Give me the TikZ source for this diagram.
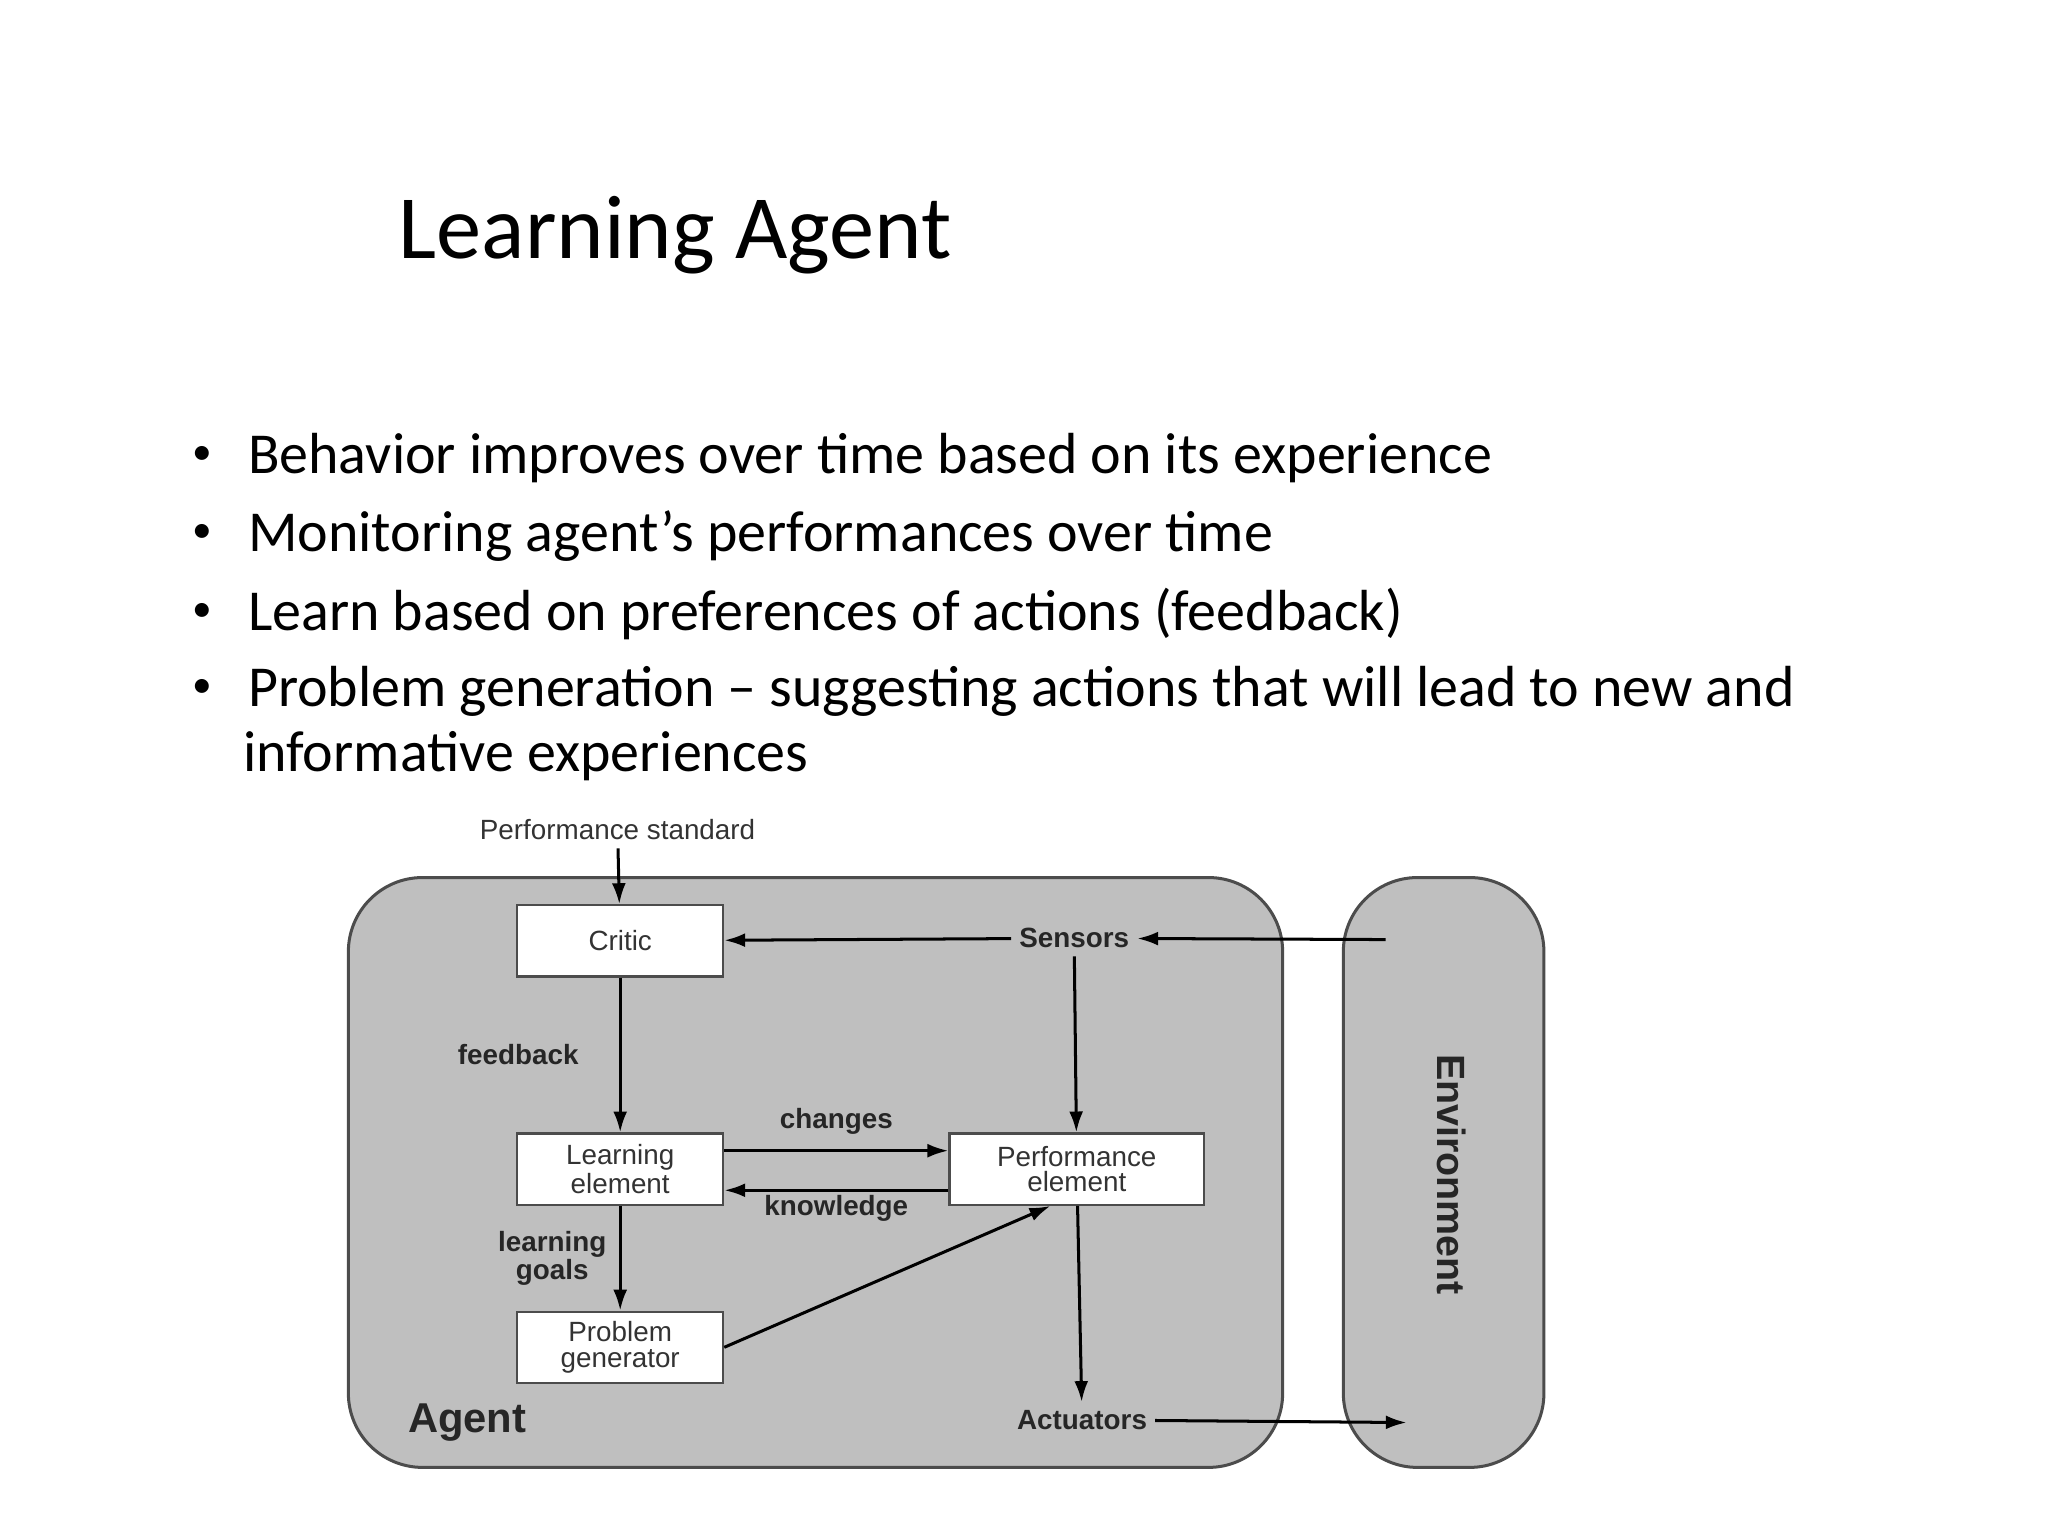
\documentclass[tikz,border=0pt]{standalone}
\usepackage{fontspec}
\setmainfont{Carlito}
\newfontfamily\dfont{Liberation Sans}
\usetikzlibrary{arrows.meta}
\newcommand{\mybul}{\makebox[42\dimexpr0.567pt\relax][l]{\raisebox{0.15em}{\fontsize{17}{17}\selectfont•}}}
\begin{document}
\begin{tikzpicture}[x=0.02cm,y=-0.02cm,
  wbox/.style={draw=black!70,fill=white,line width=1pt,minimum width=3.12cm,minimum height=1.08cm,align=center,font=\dfont\fontsize{12}{11}\selectfont,text=black!80},
  arr/.style={-{Latex[length=9pt,width=6pt]},line width=1.3pt},
  lbl/.style={font=\dfont\bfseries\fontsize{12}{11}\selectfont,text=black!85,align=center},
  bul/.style={anchor=west,font=\fontsize{25}{28}\selectfont,align=left}]
\useasboundingbox (0,0) rectangle (1552,1164);
\node[anchor=west,font=\fontsize{39}{44}\selectfont] (title) at (296,178) {Learning Agent};
\node[bul] (b1) at (140,347) {\mybul Behavior improves over time based on its experience};
\node[bul] (b2) at (140,406) {\mybul Monitoring agent’s performances over time};
\node[bul] (b3) at (140,465) {\mybul Learn based on preferences of actions (feedback)};
\node[bul] (b4) at (140,524) {\mybul Problem generation – suggesting actions that will lead to new and};
\node[bul] (b5) at (178,573) {informative experiences};
\draw[fill=black!25,draw=black!70,line width=1.3pt,rounded corners=32] (264,665) rectangle (972,1112);
\draw[fill=black!25,draw=black!70,line width=1.3pt,rounded corners=32] (1018,665) rectangle (1170,1112);
\node[wbox] (critic) at (470,713) {Critic};
\node[wbox] (learn) at (470,886) {Learning\\element};
\node[wbox,minimum width=3.86cm] (perf) at (816,886) {Performance\\element};
\node[wbox] (prob) at (470,1021) {Problem\\generator};
\node[lbl] (sens) at (814,711) {Sensors};
\node[lbl] (act) at (820,1076) {Actuators};
\node[font=\dfont\fontsize{12}{12}\selectfont,text=black!80] (ps) at (468,629) {Performance standard};
\node[font=\dfont\bfseries\fontsize{18}{18}\selectfont,text=black!85] (agent) at (354,1078) {Agent};
\node[font=\dfont\bfseries\fontsize{17}{17}\selectfont,text=black!85,rotate=-90] (env) at (1100,890) {Environment};
\coordinate (envin) at (1050,712);
\coordinate (envout) at (1066,1078);
\draw[arr] (ps) -- (critic);
\draw[arr] (envin) -- (sens);
\draw[arr] (sens) -- (critic);
\draw[arr] (sens) -- (perf);
\draw[arr] (critic) -- node[lbl,left,xshift=-14pt]{feedback} (learn);
\draw[arr] ([yshift=0.28cm]learn.east) -- node[lbl,above,yshift=3pt]{changes} ([yshift=0.28cm]perf.west);
\draw[arr] ([yshift=-0.32cm]perf.west) -- node[lbl,below,yshift=2pt]{knowledge} ([yshift=-0.32cm]learn.east);
\draw[arr] (learn) -- node[lbl,left,xshift=-2pt]{learning\\goals} (prob);
\draw[arr] (prob.east) -- ([xshift=-0.4cm]perf.south);
\draw[arr] (perf) -- (act);
\draw[arr] (act) -- (envout);
\end{tikzpicture}
\end{document}
